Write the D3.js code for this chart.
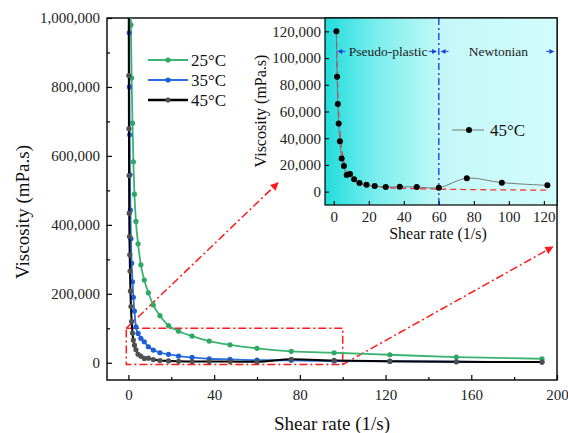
<!DOCTYPE html>
<html>
<head>
<meta charset="utf-8">
<script src="https://cdn.jsdelivr.net/npm/d3@7"></script>
<style>
  html, body { margin: 0; padding: 0; background: #fff; }
  svg { display: block; font-family: "Liberation Serif", "Times New Roman", serif; }
  svg text { font-family: "Liberation Serif", "Times New Roman", serif !important; }
</style>
</head>
<body>
<svg id="chart" width="568" height="433"></svg>
<script>
// ---------- DATA ----------
const seriesNames = ["25°C", "35°C", "45°C"];

const shear25 = [0.93, 1.17, 1.5, 1.9, 2.3, 2.8, 3.5, 4.5, 5.8, 7.4, 9.3, 11.6, 14.7, 18.7, 23.4, 29.7, 37.7, 47.4, 60, 76, 96, 122, 153, 193];
const visc25  = [1150000, 980000, 826000, 695000, 583000, 489000, 410000, 345000, 284000, 240000, 203000, 167500, 136500, 108000, 91500, 77500, 63000, 52000, 41800, 33100, 29000, 23200, 16500, 11600];

const shear35 = [0.3, 0.37, 0.47, 0.59, 0.74, 0.93, 1.17, 1.5, 1.9, 2.3, 2.8, 3.5, 4.5, 5.8, 7.4, 9.3, 11.6, 14.7, 18.7, 23.4, 29.7, 37.7, 47.4, 60, 76, 96, 122, 153, 193];
const visc35  = [1150000, 957000, 800000, 661000, 545000, 443000, 360000, 289000, 235000, 190000, 150000, 104000, 85000, 71000, 61000, 46500, 36900, 29000, 24400, 19500, 15700, 11600, 9900, 7800, 7000, 5000, 4000, 3000, 2000];

const shear45 = [0.15, 0.19, 0.24, 0.3, 0.37, 0.47, 0.59, 0.74, 0.93, 1.17, 1.5, 1.9, 2.3, 2.8, 3.5, 4.5, 5.8, 7.4, 9.3, 11.6, 14.7, 18.7, 23.4, 29.7, 37.7, 47.4, 60, 76, 96, 122, 153, 193];
const visc45  = [1050000, 833000, 679000, 543000, 434000, 366000, 313000, 266000, 208000, 163000, 120000, 86000, 65700, 51000, 37700, 24750, 19200, 12450, 13200, 9200, 6450, 5250, 4200, 3450, 3700, 3450, 3000, 10000, 6750, 4700, 3000, 2000];

// power-law fit curve (red dashed in inset)
const fitShear = [1.5, 2, 2.5, 3, 4, 5, 6, 8, 10, 12, 15, 20, 25, 30, 40, 60, 80, 100, 122];
const fitVisc  = [120000, 88000, 68000, 54000, 38000, 28000, 21000, 13500, 10000, 8000, 6000, 4500, 3700, 3100, 2500, 1900, 1500, 1300, 1100];

// main axis ticks
const xTicksMain = [0, 40, 80, 120, 160, 200];
const xMinorMain = [20, 60, 100, 140, 180];
const yTicksMain = [0, 200000, 400000, 600000, 800000, 1000000];
const yMinorMain = [100000, 300000, 500000, 700000, 900000];

// inset ticks
const xTicksInset = [0, 20, 40, 60, 80, 100, 120];
const yTicksInset = [0, 20000, 40000, 60000, 80000, 100000, 120000];

// annotations (data coordinates)
const zoomBox = { x0: -1, x1: 100, y0: -5000, y1: 100000 };
const arrowTargets = [ { from: [-1, 100000], to: [69.8, 522000] }, { from: [100, -5000], to: [198, 336000] } ];
const regimes = [ { label: "Pseudo-plastic", x0: 2, x1: 59 }, { label: "Newtonian", x0: 61, x1: 126 } ];
const regimeY = 105000;
const regimeBoundary = 60;

// ---------- STYLE ----------
const colors = ["#3cb371", "#2a6fdc", "#000000"];
const markerColors = ["#2ea862", "#1d5fd6", "#505050"];
const FONT = '"Liberation Serif", "Times New Roman", serif';

const svg = d3.select("#chart");
const defs = svg.append("defs");

// ---------- MAIN CHART ----------
const M = { left: 107, right: 557, top: 18, bottom: 380 };
const x = d3.scaleLinear([-10, 200], [M.left, M.right]);
const y = d3.scaleLinear([-50000, 1000000], [M.bottom, M.top]);

defs.append("clipPath").attr("id", "clipMain").append("rect")
  .attr("x", M.left).attr("y", M.top).attr("width", M.right - M.left).attr("height", M.bottom - M.top);

// axes
const xAxis = d3.axisBottom(x).tickValues(xTicksMain).tickSize(-5).tickPadding(9).tickFormat(d3.format("d"));
svg.append("g").attr("class", "axisMain").attr("transform", `translate(0,${M.bottom})`).call(xAxis);
svg.append("g").attr("class", "axisMain").attr("transform", `translate(0,${M.bottom})`)
  .call(d3.axisBottom(x).tickValues(xMinorMain).tickSize(-3).tickFormat(""));
const yAxis = d3.axisLeft(y).tickValues(yTicksMain).tickSize(-5).tickPadding(7).tickFormat(d3.format(","));
svg.append("g").attr("class", "axisMain").attr("transform", `translate(${M.left},0)`).call(yAxis);
svg.append("g").attr("class", "axisMain").attr("transform", `translate(${M.left},0)`)
  .call(d3.axisLeft(y).tickValues(yMinorMain).tickSize(-3).tickFormat(""));
svg.selectAll(".axisMain").attr("font-family", FONT).attr("font-size", 15);
svg.selectAll(".axisMain .domain").remove();
svg.selectAll(".axisMain .tick line").attr("stroke", "#000").attr("stroke-width", 1.2);
svg.selectAll(".axisMain .tick text").style("font-family", FONT).style("font-size", "15px").attr("fill", "#222");

// frame
svg.append("rect").attr("x", M.left).attr("y", M.top).attr("width", M.right - M.left).attr("height", M.bottom - M.top)
  .attr("fill", "none").attr("stroke", "#000").attr("stroke-width", 1.4);

// axis titles
svg.append("text").attr("x", (M.left + M.right) / 2).attr("y", 430).attr("text-anchor", "middle")
  .style("font-family", FONT).style("font-size", "19px").attr("fill", "#111").text("Shear rate (1/s)");
svg.append("text").attr("transform", "translate(29,212) rotate(-90)").attr("text-anchor", "middle")
  .style("font-family", FONT).style("font-size", "19px").attr("fill", "#111").text("Viscosity (mPa.s)");

// series
const mainSeries = [
  { xs: shear25, ys: visc25 },
  { xs: shear35, ys: visc35 },
  { xs: shear45, ys: visc45 }
];
const lineMain = d3.line().x(d => x(d[0])).y(d => y(d[1])).curve(d3.curveMonotoneX);

// red zoom box + arrows
defs.append("marker").attr("id", "redHead").attr("viewBox", "0 0 10 10").attr("refX", 9).attr("refY", 5)
  .attr("markerWidth", 10).attr("markerHeight", 8).attr("markerUnits", "userSpaceOnUse").attr("orient", "auto")
  .append("path").attr("d", "M0,0 L10,5 L0,10 Z").attr("fill", "#ff1a1a");

const annoG = svg.append("g");
annoG.append("rect")
  .attr("x", x(zoomBox.x0)).attr("y", y(zoomBox.y1))
  .attr("width", x(zoomBox.x1) - x(zoomBox.x0)).attr("height", y(zoomBox.y0) - y(zoomBox.y1))
  .attr("fill", "none").attr("stroke", "#ff1a1a").attr("stroke-width", 1.5).attr("stroke-dasharray", "8,3,2,3");

const plotG = svg.append("g").attr("clip-path", "url(#clipMain)");
mainSeries.forEach((s, i) => {
  const pts = s.xs.map((v, k) => [v, s.ys[k]]);
  plotG.append("path").datum(pts).attr("d", lineMain).attr("fill", "none")
    .attr("stroke", colors[i]).attr("stroke-width", i === 2 ? 2 : 1.8);
  plotG.selectAll(null).data(pts).enter().append("circle")
    .attr("cx", d => x(d[0])).attr("cy", d => y(d[1])).attr("r", 2.6).attr("fill", markerColors[i]);
});

arrowTargets.forEach(a => {
  annoG.append("line")
    .attr("x1", x(a.from[0])).attr("y1", y(a.from[1])).attr("x2", x(a.to[0])).attr("y2", y(a.to[1]))
    .attr("stroke", "#ff1a1a").attr("stroke-width", 1.5).attr("stroke-dasharray", "8,3,2,3")
    .attr("marker-end", "url(#redHead)");
});

// legend
const legend = svg.append("g");
seriesNames.forEach((name, i) => {
  const ly = 60 + i * 20;
  legend.append("line").attr("x1", 148).attr("x2", 188).attr("y1", ly).attr("y2", ly)
    .attr("stroke", colors[i]).attr("stroke-width", i === 2 ? 2.4 : 2);
  legend.append("circle").attr("cx", 168).attr("cy", ly).attr("r", 2.6).attr("fill", markerColors[i]);
  legend.append("text").attr("x", 191).attr("y", ly + 5.5).style("font-family", FONT).style("font-size", "17px")
    .attr("fill", "#111").text(name);
});

// ---------- INSET ----------
const I = { left: 325, right: 557, top: 18, bottom: 205 };
const xi = d3.scaleLinear([-5, 127.5], [I.left, I.right]);
const yi = d3.scaleLinear([-10000, 130000], [I.bottom, I.top]);

const grad = defs.append("linearGradient").attr("id", "insetBg").attr("x1", "0%").attr("x2", "100%").attr("y1", "0%").attr("y2", "0%");
grad.append("stop").attr("offset", "0%").attr("stop-color", "#22dcdc");
grad.append("stop").attr("offset", "22%").attr("stop-color", "#7aeeee");
grad.append("stop").attr("offset", "50%").attr("stop-color", "#c4f8f8");
grad.append("stop").attr("offset", "100%").attr("stop-color", "#d2fcfc");

defs.append("clipPath").attr("id", "clipInset").append("rect")
  .attr("x", I.left).attr("y", I.top).attr("width", I.right - I.left).attr("height", I.bottom - I.top);

const insetG = svg.append("g");
insetG.append("rect").attr("x", I.left).attr("y", I.top).attr("width", I.right - I.left).attr("height", I.bottom - I.top)
  .attr("fill", "url(#insetBg)");

insetG.append("g").attr("class", "axisInset").attr("transform", `translate(0,${I.bottom})`)
  .call(d3.axisBottom(xi).tickValues(xTicksInset).tickSize(-4).tickPadding(6).tickFormat(d3.format("d")));
insetG.append("g").attr("class", "axisInset").attr("transform", `translate(${I.left},0)`)
  .call(d3.axisLeft(yi).tickValues(yTicksInset).tickSize(-4).tickPadding(4).tickFormat(d3.format(",")));
insetG.selectAll(".axisInset").attr("font-family", FONT).attr("font-size", 15);
insetG.selectAll(".axisInset .domain").remove();
insetG.selectAll(".axisInset .tick line").attr("stroke", "#000").attr("stroke-width", 1.1);
insetG.selectAll(".axisInset .tick text").style("font-family", FONT).style("font-size", "15px").attr("fill", "#222");

const insetPlot = insetG.append("g").attr("clip-path", "url(#clipInset)");

// regime boundary
insetPlot.append("line").attr("x1", xi(regimeBoundary)).attr("x2", xi(regimeBoundary)).attr("y1", I.top).attr("y2", I.bottom)
  .attr("stroke", "#1f3fe8").attr("stroke-width", 1.4).attr("stroke-dasharray", "7,3,2,3");

// regime labels + arrows
const blue = "#1f3fe8";
regimes.forEach(r => {
  const yy = yi(regimeY);
  const xa = xi(r.x0), xb = xi(r.x1);
  insetPlot.append("path").attr("d", `M${xa},${yy} l5,-2.5 l0,5 Z`).attr("fill", blue);
  insetPlot.append("line").attr("x1", xa + 4).attr("x2", xa + 8).attr("y1", yy).attr("y2", yy).attr("stroke", blue).attr("stroke-width", 1);
  insetPlot.append("path").attr("d", `M${xb},${yy} l-5,-2.5 l0,5 Z`).attr("fill", blue);
  insetPlot.append("line").attr("x1", xb - 8).attr("x2", xb - 4).attr("y1", yy).attr("y2", yy).attr("stroke", blue).attr("stroke-width", 1);
  insetPlot.append("text").attr("x", (xa + xb) / 2 + 1).attr("y", yy + 5).attr("text-anchor", "middle")
    .style("font-family", FONT).style("font-size", "13.5px").attr("fill", "#222").text(r.label);
});

// fit line
const fitPts = fitShear.map((v, k) => [v, fitVisc[k]]);
insetPlot.append("path").datum(fitPts)
  .attr("d", d3.line().x(d => xi(d[0])).y(d => yi(d[1])).curve(d3.curveMonotoneX))
  .attr("fill", "none").attr("stroke", "#ff3030").attr("stroke-width", 1.3).attr("stroke-dasharray", "6,4");

// 45°C data in inset
const insetPts = shear45.map((v, k) => [v, visc45[k]]).filter(d => d[0] >= 1.5 && d[0] <= 127);
insetPlot.append("path").datum(insetPts)
  .attr("d", d3.line().x(d => xi(d[0])).y(d => yi(d[1])).curve(d3.curveCatmullRom.alpha(0.5)))
  .attr("fill", "none").attr("stroke", "#777").attr("stroke-width", 1);
insetPlot.selectAll(null).data(insetPts).enter().append("circle")
  .attr("cx", d => xi(d[0])).attr("cy", d => yi(d[1])).attr("r", 3).attr("fill", "#000");

// inset frame
insetG.append("rect").attr("x", I.left).attr("y", I.top).attr("width", I.right - I.left).attr("height", I.bottom - I.top)
  .attr("fill", "none").attr("stroke", "#000").attr("stroke-width", 1.2);

// inset legend
insetG.append("line").attr("x1", 452).attr("x2", 484).attr("y1", 130).attr("y2", 130).attr("stroke", "#777").attr("stroke-width", 1);
insetG.append("circle").attr("cx", 469).attr("cy", 130).attr("r", 3).attr("fill", "#000");
insetG.append("text").attr("x", 490).attr("y", 136).style("font-family", FONT).style("font-size", "17px").attr("fill", "#111").text("45°C");

// inset titles
insetG.append("text").attr("x", (I.left + I.right) / 2 - 3).attr("y", 239).attr("text-anchor", "middle")
  .style("font-family", FONT).style("font-size", "16px").attr("fill", "#111").text("Shear rate (1/s)");
insetG.append("text").attr("transform", "translate(266,111) rotate(-90)").attr("text-anchor", "middle")
  .style("font-family", FONT).style("font-size", "16px").attr("fill", "#111").text("Viscosity (mPa.s)");
</script>
</body>
</html>
